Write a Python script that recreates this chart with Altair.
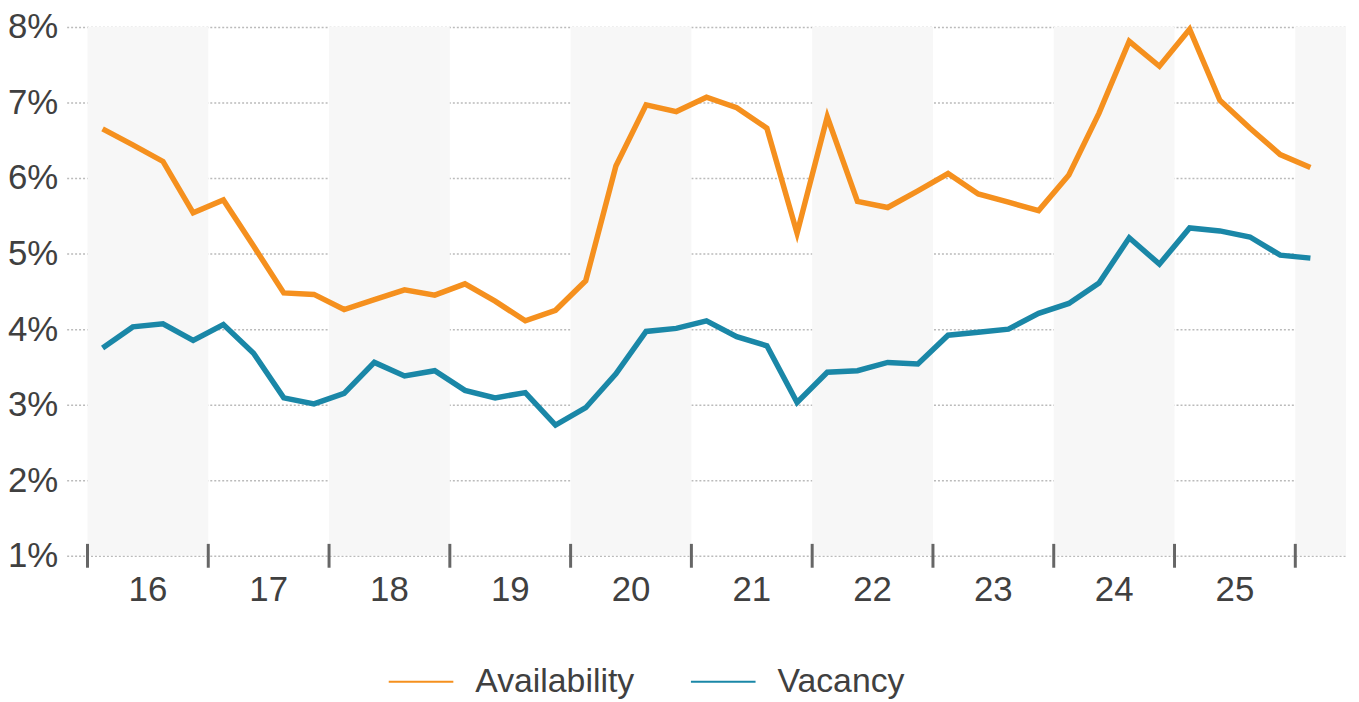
import altair as alt
import pandas as pd

# ---- data ----
quarters = [f"{y}Q{q}" for y in range(16, 26) for q in range(1, 5)] + ["26Q1"]
availability = [6.65, 6.44, 6.22, 5.54, 5.71, 5.10, 4.48, 4.46, 4.26, 4.39,
                4.52, 4.45, 4.60, 4.37, 4.11, 4.25, 4.64, 6.16, 6.97, 6.88,
                7.07, 6.93, 6.66, 5.27, 6.81, 5.69, 5.61, 5.83, 6.06, 5.79,
                5.68, 5.57, 6.04, 6.86, 7.81, 7.48, 7.97, 7.03, 6.66, 6.31,
                6.14]
vacancy = [3.75, 4.03, 4.07, 3.85, 4.06, 3.68, 3.09, 3.01, 3.15, 3.56,
           3.38, 3.45, 3.19, 3.09, 3.16, 2.73, 2.96, 3.41, 3.97, 4.01,
           4.11, 3.90, 3.78, 3.03, 3.43, 3.45, 3.56, 3.54, 3.92, 3.96,
           4.00, 4.21, 4.34, 4.61, 5.21, 4.86, 5.34, 5.30, 5.22, 4.98,
           4.94]
year_labels = ["16", "17", "18", "19", "20", "21", "22", "23", "24", "25"]
shaded_years = ["16", "18", "20", "22", "24", "26"]
y_ticks = [1, 2, 3, 4, 5, 6, 7, 8]
series_names = ["Availability", "Vacancy"]
series_colors = ["#F5901E", "#1A87A7"]

# ---- tables ----
rows = []
for i, q in enumerate(quarters):
    rows.append({"pos": i + 0.5, "quarter": q, "series": "Availability", "value": availability[i]})
    rows.append({"pos": i + 0.5, "quarter": q, "series": "Vacancy", "value": vacancy[i]})
lines_df = pd.DataFrame(rows)

band_df = pd.DataFrame({
    "start": [(int(y) - 16) * 4 for y in shaded_years],
    "end": [(int(y) - 16) * 4 + 4 for y in shaded_years],
})
labels_df = pd.DataFrame({
    "label": year_labels,
    "pos": [(int(y) - 16) * 4 + 2 for y in year_labels],
})
bounds_df = pd.DataFrame({"pos": [i * 4 for i in range(len(year_labels) + 1)]})

W, H = 1287, 532
FONT = "Liberation Sans"
TXT = "#404040"
AX = "#666666"

xscale = alt.Scale(domain=[-0.69, 41.68], nice=False, zero=False)
yscale = alt.Scale(domain=[1, 8], nice=False, zero=False)

bands = alt.Chart(band_df).mark_rect(color="#F7F7F7", clip=True).encode(
    x=alt.X("start:Q", scale=xscale, axis=None),
    x2="end:Q",
    y=alt.value(0),
    y2=alt.value(H),
)

lines = alt.Chart(lines_df).mark_line(strokeWidth=5.5, strokeJoin="miter").encode(
    x=alt.X("pos:Q", scale=xscale,
            axis=alt.Axis(title=None, labels=False, ticks=False, grid=False,
                          domain=True, domainColor=AX, domainWidth=3)),
    y=alt.Y("value:Q", scale=yscale,
            axis=alt.Axis(title=None, values=y_ticks, labelExpr="datum.value + '%'",
                          labelFont=FONT, labelFontSize=35, labelColor=TXT,
                          labelPadding=9, ticks=False, domain=False,
                          grid=True, gridColor="#BBBBBB", gridDash=[2, 2],
                          gridWidth=1.5)),
    color=alt.Color("series:N",
                    scale=alt.Scale(domain=series_names, range=series_colors),
                    legend=alt.Legend(title=None, orient="none", direction="horizontal",
                                      legendX=323, legendY=625,
                                      symbolType="stroke", symbolSize=4225,
                                      symbolStrokeWidth=2, labelFont=FONT,
                                      labelFontSize=34, labelColor=TXT,
                                      labelLimit=0,
                                      labelOffset=21, columnPadding=52)),
    detail="series:N",
)

ticks = alt.Chart(bounds_df).mark_rule(color=AX, strokeWidth=3).encode(
    x=alt.X("pos:Q", scale=xscale),
    y=alt.value(H - 12),
    y2=alt.value(H + 12),
)

year_text = alt.Chart(labels_df).mark_text(
    font=FONT, fontSize=35, color=TXT, baseline="middle", align="center"
).encode(
    x=alt.X("pos:Q", scale=xscale),
    y=alt.value(H + 34),
    text="label:N",
)

chart = alt.layer(bands, lines, ticks, year_text).properties(
    width=W, height=H,
    padding={"left": 59, "top": 17, "right": 5, "bottom": 145},
    autosize=alt.AutoSizeParams(type="none"),
).configure_view(stroke=None)

chart.save("out.html", embed_options={"renderer": "svg", "actions": False})
